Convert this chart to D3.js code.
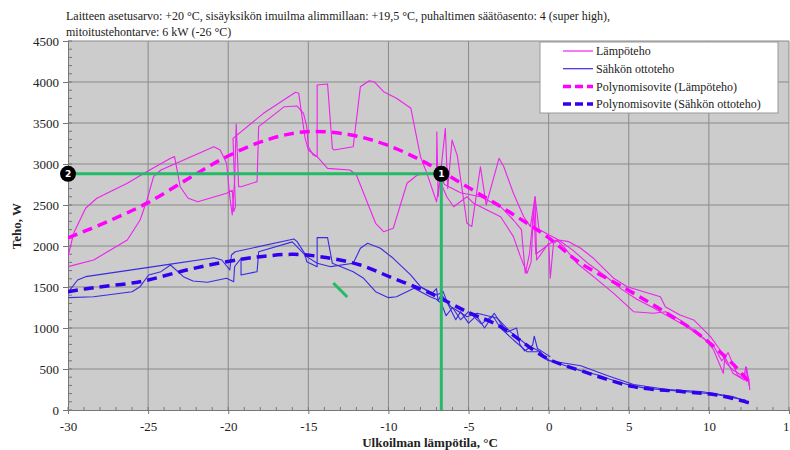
<!DOCTYPE html>
<html lang="fi">
<head>
<meta charset="UTF-8">
<title>Lämpöteho ja sähkön ottoteho</title>
<script src="https://d3js.org/d3.v7.min.js"></script>
<style>
  body { margin: 0; background: #fff; }
  svg text { font-family: "Liberation Serif", "DejaVu Serif", serif; fill: #222; }
</style>
</head>
<body>
<div id="chart"></div>
<script>
// --- data: [ulkolämpötila °C, teho W] ---
const titleLines = [
  "Laitteen asetusarvo: +20 °C, sisäyksikön imuilma alimmillaan: +19,5 °C, puhaltimen säätöasento: 4 (super high),",
  "mitoitustehontarve: 6 kW (-26 °C)"
];
const xTicks = [-30, -25, -20, -15, -10, -5, 0, 5, 10, 15];
const yTicks = [0, 500, 1000, 1500, 2000, 2500, 3000, 3500, 4000, 4500];
const legendLabels = ["Lämpöteho", "Sähkön ottoteho", "Polynomisovite (Lämpöteho)", "Polynomisovite (Sähkön ottoteho)"];

const heatRun1 = [[-30,1870],[-29.65,2155],[-28.9,2460],[-28.2,2582],[-26.3,2765],[-24.9,2927],[-23.6,3069],[-23.35,3090],
  [-23.0,2723],[-22.5,2582],[-21.9,2540],[-20.1,2643],[-19.75,2680],[-19.65,2420],[-19.55,2480],[-19.7,3313],[-17.8,3618],
  [-15.8,3874],[-15.6,3862],[-15.2,3313],[-15.0,3171],[-14.45,3089],[-13.8,2947],[-12.4,2927],[-12.0,2866],[-10.8,2277],
  [-10.3,2175],[-9.7,2216],[-8.84,2765],[-8.2,2866],[-7.4,2886],[-7.0,2880],[-6.98,3394],[-6.9,2600],[-6.45,3435],[-6.3,2700],
  [-6.03,3293],[-5.7,3100],[-5.1,2277],[-4.8,2236],[-4.26,2967],[-3.9,2500],[-3.1,3069],[-2.8,2967],[-2.2,2643],[-1.56,2357],
  [-1.14,2236],[-0.85,2601],[-0.6,2200],[0.62,2073],[1.25,2053],[2.0,1972],[2.8,1850],[3.54,1707],[4.06,1606],[4.9,1504],
  [6.97,1382],[7.28,1260],[8.2,1159],[9.05,1098],[10.1,894],[10.7,732],[11.1,570],[11.5,488],[12.2,406],[12.3,528],[12.5,366],[12.55,244]];
const heatRun2 = [[-30,1748],[-28.4,1829],[-26.3,2073],[-25.5,2317],[-25.07,2561],[-24.66,2845],[-24.2,2927],[-20.9,3211],
  [-20.5,3171],[-20.1,3008],[-19.9,2600],[-19.75,2380],[-19.6,2800],[-19.5,3488],[-19.35,2723],[-19.2,2723],[-18.2,2784],
  [-18.1,3455],[-16.5,3699],[-15.7,3707],[-15.3,3618],[-15.1,3455],[-15.0,3211],[-14.7,3110],[-14.45,3089],[-14.45,3963],
  [-13.8,3976],[-13.5,3191],[-13.4,3171],[-12.2,3211],[-11.75,3943],[-11.2,4016],[-10.9,4004],[-10.3,3882],[-9.5,3801],
  [-8.6,3679],[-8.0,3089],[-7.6,2886],[-7.0,2540],[-6.8,2800],[-6.36,2601],[-5.93,2479],[-5.1,2601],[-4.68,2520],[-3.85,2439],
  [-3.0,2357],[-2.2,2114],[-1.76,1870],[-1.35,1667],[-1.1,1800],[-0.93,2479],[-0.8,1900],[0.1,2033],[0.5,2073],[0.94,1992],
  [1.77,1789],[2.8,1626],[4.06,1423],[5.3,1199],[6.55,1179],[7.3,1199],[8.2,1098],[9.05,976],[9.9,833],[10.3,732],[10.9,447],
  [11.0,650],[11.5,447],[12.2,366],[12.4,400]];
const heatRun3 = [[-6.9,2900],[-6.5,2750],[-5.5,2650],[-4.26,2601],[-3.0,2479],[-2.2,2317],[-1.7,2200],[-1.46,1667],[-1.2,1900],
  [-0.85,2601],[-0.75,1829],[0.0,2033],[0.1,1606],[0.3,2033],[0.62,2073],[1.5,1950],[2.5,1780],[3.5,1640],[4.5,1480],[5.5,1350],
  [6.5,1250],[7.3,1160],[8.5,1030],[9.5,900],[10.3,780],[10.8,600],[11.2,700],[11.8,420],[12.3,380],[12.35,520],[12.5,300]];

const elecRun1 = [[-29.96,1443],[-29.4,1585],[-28.9,1626],[-25.07,1736],[-23.7,1776],[-20.9,1857],[-20.4,1829],[-19.9,1707],
  [-19.8,1890],[-19.56,1930],[-15.9,2085],[-15.7,2053],[-15.1,1870],[-14.45,1789],[-13.6,1748],[-12.2,1789],[-11.75,1972],
  [-11.3,2033],[-10.5,1972],[-9.7,1850],[-8.6,1646],[-8.0,1504],[-7.4,1443],[-7.0,1402],[-6.76,1423],[-6.1,1260],[-5.1,1138],
  [-4.46,1179],[-3.2,1118],[-2.4,955],[-1.35,793],[-0.52,711],[-0.1,610],[0.0,600],[0.75,580],[2.0,540],[3.65,420],[5.3,310],
  [7.4,250],[9.5,225],[11.5,165],[12.5,90]];
const elecRun2 = [[-29.96,1370],[-28.4,1382],[-26.0,1443],[-25.5,1504],[-24.97,1646],[-24.2,1687],[-23.6,1768],[-22.8,1626],
  [-22.2,1573],[-21.3,1557],[-20.1,1606],[-19.66,1565],[-19.6,1750],[-19.2,1850],[-19.2,1646],[-18.2,1687],[-18.1,1930],
  [-16.0,2050],[-15.2,1890],[-15.1,1809],[-14.45,1748],[-14.45,2102],[-13.8,2102],[-13.5,1789],[-12.2,1687],[-11.55,1606],
  [-10.8,1443],[-10.0,1370],[-9.5,1382],[-8.4,1484],[-7.4,1382],[-7.0,1350],[-6.7,1300],[-6.4,1150],[-6.0,1250],[-5.5,1100],
  [-5.0,1200],[-4.2,1050],[-3.5,1150],[-3.0,1000],[-2.2,854],[-1.35,711],[-0.6,711],[0.0,610],[0.73,560],[2.0,480],[3.0,430],
  [4.06,360],[5.1,300],[6.1,264],[8.2,230],[10.3,195],[11.5,150],[12.3,120]];
const elecRun3 = [[-8.0,1500],[-7.3,1420],[-7.0,1480],[-6.9,1330],[-6.6,1450],[-6.3,1300],[-5.8,1100],[-5.5,1200],[-5.0,1060],
  [-4.5,1150],[-4.0,1000],[-3.4,1180],[-3.0,1060],[-2.6,950],[-2.0,1000],[-1.8,800],[-1.5,720],[-1.0,790],[-0.9,900],[-0.7,750],
  [-0.3,700],[0.1,650]];

const heatFit = [[-30,2098],[-27.5,2300],[-25.1,2520],[-22.5,2820],[-20.1,3089],[-17.5,3300],[-15.1,3394],[-12.5,3360],
  [-10.1,3232],[-7.6,3008],[-5.09,2723],[-2.5,2420],[-0.1,2114],[2.0,1790],[4.9,1470],[7.3,1190],[9.4,920],[11.5,560],[12.6,320]];
const elecFit = [[-30,1443],[-28.4,1492],[-25.5,1565],[-22.6,1707],[-20.1,1809],[-18.0,1870],[-15.9,1898],[-13.8,1857],
  [-11.75,1768],[-9.7,1606],[-7.6,1443],[-5.1,1199],[-3.0,1016],[-0.95,732],[0.1,610],[2.2,467],[5.3,285],[8.4,223],
  [10.5,183],[12.6,82]];

const guideH = [[-30,2880],[-6.7,2880]];
const guideV = [[-6.7,2880],[-6.7,0]];
const strayGreen = [[-13.44,1549],[-12.57,1378]];
const markers = [{label: "1", t: -6.7, w: 2880}, {label: "2", t: -30, w: 2880}];

// --- drawing ---
const W = 790, H = 450;
const svg = d3.select("#chart").append("svg").attr("width", W).attr("height", H);
const x = d3.scaleLinear().domain([-30, 15]).range([68, 789]);
const y = d3.scaleLinear().domain([0, 4500]).range([410, 41]);

// plot background
svg.append("rect").attr("x", x(-30)).attr("y", y(4500))
  .attr("width", x(15) - x(-30)).attr("height", y(0) - y(4500)).attr("fill", "#cccccc");

// grid
svg.append("g").selectAll("line").data(xTicks.slice(1)).join("line")
  .attr("x1", d => x(d)).attr("x2", d => x(d)).attr("y1", y(0)).attr("y2", y(4500))
  .attr("stroke", "#8a8a8a").attr("stroke-width", 1);
svg.append("g").selectAll("line").data(yTicks.slice(1)).join("line")
  .attr("x1", x(-30)).attr("x2", x(15)).attr("y1", d => y(d)).attr("y2", d => y(d))
  .attr("stroke", "#8a8a8a").attr("stroke-width", 1);

// axes with minor ticks inside
const xMinor = d3.range(-30, 15.01, 1);
const yMinor = d3.range(0, 4500.01, 100);
svg.append("g").selectAll("line").data(xMinor).join("line")
  .attr("x1", d => x(d)).attr("x2", d => x(d)).attr("y1", y(0)).attr("y2", y(0) - 3)
  .attr("stroke", "#777");
svg.append("g").selectAll("line").data(yMinor).join("line")
  .attr("x1", x(-30)).attr("x2", x(-30) + 4).attr("y1", d => y(d)).attr("y2", d => y(d))
  .attr("stroke", "#777");

const xAxis = svg.append("g").attr("transform", `translate(0,${y(0)})`)
  .call(d3.axisBottom(x).tickValues(xTicks).tickSize(4).tickSizeOuter(0).tickFormat(d3.format("d")));
const yAxis = svg.append("g").attr("transform", `translate(${x(-30)},0)`)
  .call(d3.axisLeft(y).tickValues(yTicks).tickSize(5).tickSizeOuter(0).tickFormat(d3.format("d")));
[xAxis, yAxis].forEach(a => {
  a.select(".domain").attr("stroke", "#777");
  a.selectAll(".tick line").attr("stroke", "#777");
  a.selectAll(".tick text").attr("fill", "#222")
    .style("font-family", "'Liberation Serif', serif").style("font-size", "13px");
});
xAxis.selectAll(".tick text").attr("dy", "1.05em");
xAxis.selectAll(".tick text").text(d => d < 0 ? "-" + Math.abs(d) : d);
yAxis.selectAll(".tick text").attr("x", -9);

// axis titles
svg.append("text").attr("x", 430).attr("y", 447).attr("text-anchor", "middle")
  .style("font-size", "13px").style("font-weight", "bold").text("Ulkoilman lämpötila, °C");
svg.append("text").attr("transform", "translate(21,226) rotate(-90)").attr("text-anchor", "middle")
  .style("font-size", "13px").style("font-weight", "bold").text("Teho, W");

// title
svg.selectAll(".title").data(titleLines).join("text").attr("class", "title")
  .attr("x", 66).attr("y", (d, i) => 20 + i * 16)
  .style("font-size", "12px").text(d => d);

// clip data to plot area
svg.append("clipPath").attr("id", "plotClip").append("rect")
  .attr("x", x(-30)).attr("y", y(4500)).attr("width", x(15) - x(-30)).attr("height", y(0) - y(4500));
const plot = svg.append("g").attr("clip-path", "url(#plotClip)");

const line = d3.line().x(d => x(d[0])).y(d => y(d[1]));
const smooth = d3.line().x(d => x(d[0])).y(d => y(d[1])).curve(d3.curveCatmullRom.alpha(0.5));

// raw measurements
[heatRun1, heatRun2, heatRun3].forEach(r => plot.append("path").attr("d", line(r))
  .attr("fill", "none").attr("stroke", "#ee22ee").attr("stroke-width", 1.1).attr("stroke-linejoin", "round"));
[elecRun1, elecRun2, elecRun3].forEach(r => plot.append("path").attr("d", line(r))
  .attr("fill", "none").attr("stroke", "#3a2be0").attr("stroke-width", 1.1).attr("stroke-linejoin", "round"));

// polynomial fits
plot.append("path").attr("d", smooth(heatFit)).attr("fill", "none")
  .attr("stroke", "#ff00ff").attr("stroke-width", 3.5).attr("stroke-dasharray", "10,6");
plot.append("path").attr("d", smooth(elecFit)).attr("fill", "none")
  .attr("stroke", "#3300ee").attr("stroke-width", 3.5).attr("stroke-dasharray", "10,6");

// green guide lines
[guideH, guideV, strayGreen].forEach(g => svg.append("path").attr("d", line(g))
  .attr("fill", "none").attr("stroke", "#22bb66").attr("stroke-width", 3));

// numbered markers
const mk = svg.selectAll(".marker").data(markers).join("g").attr("class", "marker")
  .attr("transform", d => `translate(${x(d.t)},${y(d.w)})`);
mk.append("circle").attr("r", 8).attr("fill", "#000");
mk.append("text").attr("text-anchor", "middle").attr("dy", "0.35em")
  .style("font-family", "'DejaVu Sans', sans-serif").style("font-size", "9px").style("font-weight", "bold")
  .style("fill", "#fff").text(d => d.label);

// legend
const lg = svg.append("g").attr("transform", "translate(540,42)");
lg.append("rect").attr("width", 238).attr("height", 71).attr("fill", "#fff").attr("stroke", "#999");
const legendStyles = [
  {c: "#ee22ee", w: 1.2, dash: null},
  {c: "#3a2be0", w: 1.2, dash: null},
  {c: "#ff00ff", w: 3.5, dash: "8,4"},
  {c: "#3300ee", w: 3.5, dash: "8,4"}
];
legendLabels.forEach((lab, i) => {
  const row = lg.append("g").attr("transform", `translate(0,${9 + i * 17.7})`);
  row.append("line").attr("x1", 23).attr("x2", 53).attr("y1", 0).attr("y2", 0)
    .attr("stroke", legendStyles[i].c).attr("stroke-width", legendStyles[i].w)
    .attr("stroke-dasharray", legendStyles[i].dash);
  row.append("text").attr("x", 56).attr("dy", "0.35em").style("font-size", "12px").text(lab);
});
</script>
</body>
</html>
